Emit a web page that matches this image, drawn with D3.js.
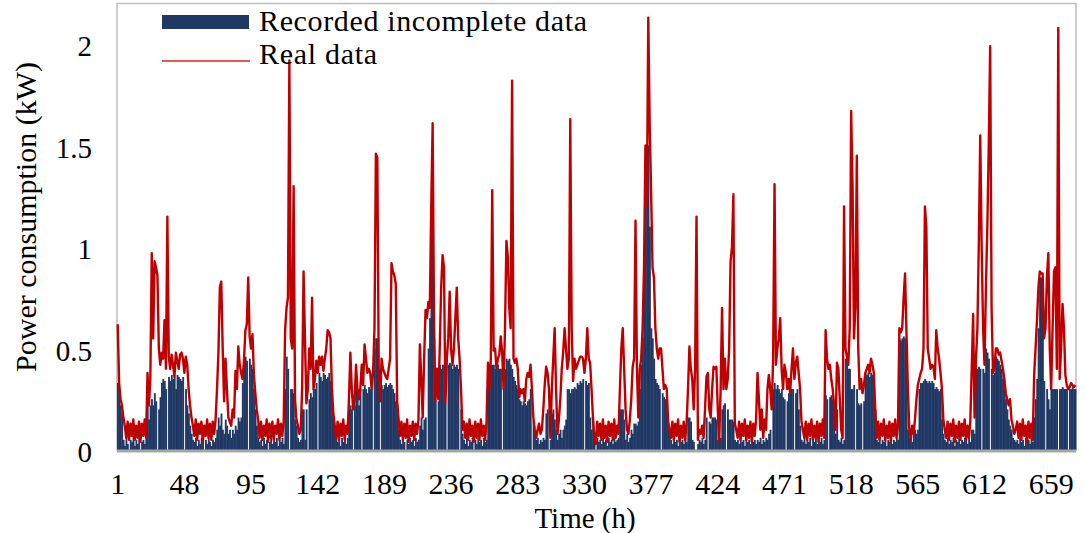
<!DOCTYPE html>
<html>
<head>
<meta charset="utf-8">
<script src="https://cdn.jsdelivr.net/npm/d3@7/dist/d3.min.js"></script>
<style>
  html, body { margin: 0; padding: 0; background: #ffffff; }
  svg { display: block; }
  text { font-family: "Liberation Serif", "Times New Roman", serif; fill: #000; }
</style>
</head>
<body>
<svg id="chart" width="1085" height="533"></svg>
<script>
// Hourly power consumption (kW), hour 1 .. 676
const realData = [
  0.62,0.33,0.25,0.22,0.16,0.12,0.06,0.14,0.05,0.13,
  0.07,0.15,0.05,0.12,0.06,0.14,0.04,0.13,0.07,0.15,
  0.06,0.38,0.22,0.35,0.97,0.55,0.93,0.9,0.86,0.5,
  0.42,0.48,0.45,0.64,0.4,1.15,0.46,0.4,0.47,0.42,
  0.36,0.48,0.44,0.4,0.47,0.48,0.45,0.38,0.46,0.42,
  0.3,0.22,0.16,0.12,0.07,0.15,0.05,0.13,0.08,0.14,
  0.04,0.12,0.07,0.15,0.06,0.13,0.05,0.14,0.08,0.15,
  0.3,0.48,0.8,0.83,0.5,0.24,0.45,0.3,0.16,0.14,
  0.12,0.2,0.16,0.39,0.3,0.51,0.42,0.38,0.35,0.44,
  0.59,0.62,0.85,0.56,0.5,0.57,0.37,0.28,0.2,0.15,
  0.06,0.14,0.05,0.12,0.07,0.15,0.04,0.13,0.06,0.14,
  0.05,0.12,0.08,0.15,0.05,0.13,0.07,0.14,0.59,0.7,
  0.75,1.92,0.55,0.5,1.3,0.25,0.15,0.12,0.08,0.1,
  0.3,0.88,0.55,0.23,0.3,0.5,0.4,0.75,0.3,0.35,
  0.44,0.38,0.46,0.42,0.46,0.39,0.45,0.5,0.59,0.58,
  0.55,0.3,0.18,0.12,0.06,0.14,0.05,0.13,0.07,0.15,
  0.05,0.12,0.08,0.25,0.48,0.3,0.2,0.25,0.42,0.3,
  0.25,0.3,0.42,0.32,0.52,0.45,0.38,0.4,0.38,0.3,
  0.38,0.6,1.46,1.44,0.4,0.24,0.45,0.4,0.38,0.36,
  0.35,0.4,0.45,0.92,0.88,0.86,0.82,0.24,0.15,0.07,
  0.14,0.05,0.13,0.06,0.15,0.04,0.12,0.07,0.14,0.05,
  0.13,0.08,0.15,0.52,0.35,0.16,0.45,0.69,0.65,0.73,
  0.7,1.2,1.61,0.6,0.24,0.4,0.25,0.5,0.8,0.96,
  0.9,0.23,0.45,0.55,0.78,0.5,0.42,0.5,0.65,0.8,
  0.55,0.45,0.3,0.1,0.14,0.06,0.13,0.05,0.15,0.07,
  0.12,0.04,0.14,0.06,0.13,0.05,0.15,0.07,0.12,0.05,
  0.14,0.43,0.3,0.45,1.28,0.49,0.5,0.4,0.45,0.47,
  0.56,0.48,0.3,0.6,1.03,0.95,0.7,0.6,1.82,0.45,
  0.43,0.45,0.4,0.26,0.3,0.28,0.3,0.24,0.35,0.38,
  0.36,0.42,0.3,0.16,0.1,0.06,0.1,0.13,0.08,0.1,
  0.2,0.32,0.41,0.38,0.3,0.06,0.3,0.45,0.6,0.3,
  0.08,0.15,0.25,0.4,0.48,0.6,0.5,0.4,0.45,1.63,
  0.6,0.34,0.45,0.4,0.42,0.44,0.46,0.46,0.45,0.38,
  0.45,0.6,0.45,0.43,0.3,0.16,0.06,0.03,0.14,0.07,
  0.13,0.05,0.15,0.06,0.12,0.04,0.14,0.07,0.13,0.05,
  0.15,0.06,0.12,0.08,0.3,0.5,0.6,0.4,0.2,0.1,
  0.08,0.15,0.25,0.41,0.45,1.13,0.4,0.16,0.4,0.45,
  0.6,0.9,1.5,1.2,2.13,1.6,1.27,0.9,0.85,0.6,
  0.5,0.45,0.5,0.5,0.4,0.3,0.32,0.3,0.14,0.1,
  0.06,0.14,0.05,0.13,0.07,0.15,0.04,0.12,0.06,0.14,
  0.05,0.13,0.3,0.51,0.4,0.35,0.2,0.4,1.15,0.05,
  0.1,0.08,0.12,0.06,0.2,0.36,0.38,0.2,0.16,0.3,
  0.41,0.4,0.41,0.2,0.04,0.3,0.7,0.3,0.45,0.3,
  0.35,0.5,0.93,1.0,1.26,0.13,0.1,0.06,0.14,0.05,
  0.13,0.07,0.15,0.05,0.12,0.06,0.14,0.04,0.13,0.07,
  0.15,0.38,0.25,0.1,0.2,0.06,0.15,0.1,0.3,0.37,
  0.3,0.2,0.45,1.31,0.42,0.5,0.55,0.65,0.4,0.3,
  0.42,0.38,0.3,0.35,0.28,0.4,0.5,0.35,0.43,0.46,
  0.38,0.3,0.14,0.1,0.06,0.14,0.05,0.13,0.07,0.15,
  0.05,0.12,0.06,0.14,0.04,0.13,0.07,0.15,0.06,0.59,
  0.45,0.4,0.42,0.35,0.3,0.22,0.1,0.43,0.4,0.25,
  0.1,0.06,1.2,0.5,0.46,0.42,0.6,1.67,1.3,0.55,
  0.7,1.45,0.5,0.3,0.35,0.28,0.32,0.38,0.4,0.42,
  0.38,0.45,0.42,0.38,0.2,0.06,0.14,0.05,0.13,0.07,
  0.15,0.05,0.12,0.06,0.14,0.04,0.13,0.07,0.15,0.06,
  0.12,0.6,0.58,0.6,0.75,0.87,0.58,0.3,0.1,0.05,
  0.12,0.08,0.15,0.25,0.32,0.35,0.38,0.4,0.5,1.2,
  1.1,0.5,0.45,0.4,0.42,0.41,0.35,0.59,0.5,0.45,
  0.38,0.3,0.15,0.1,0.06,0.14,0.05,0.13,0.07,0.15,
  0.04,0.12,0.06,0.14,0.05,0.13,0.07,0.15,0.05,0.12,
  0.06,0.14,0.4,0.67,0.16,0.45,0.6,1.02,1.55,1.0,
  0.6,0.42,0.8,1.1,1.5,1.99,0.7,0.38,0.4,0.5,
  0.5,0.47,0.48,0.44,0.4,0.35,0.28,0.25,0.22,0.25,
  0.15,0.12,0.08,0.1,0.14,0.06,0.13,0.05,0.15,0.07,
  0.12,0.04,0.14,0.06,0.13,0.05,0.37,0.5,0.64,0.8,
  0.88,0.87,0.87,0.55,0.6,0.85,0.97,0.5,0.3,0.6,
  0.88,0.9,0.4,2.08,0.35,0.5,0.72,0.6,0.37,0.32,
  0.3,0.31,0.33,0.32,0.31,0.32
];

// Recorded values for the same hours; 0 marks a missing record
const recordedData = [
  0.33,0.3,0.22,0.18,0.05,0.02,0.06,0.03,0,0.05,
  0.04,0.07,0.02,0.05,0.03,0.06,0,0.04,0.05,0.03,
  0.06,0.26,0.15,0.22,0.25,0.22,0.28,0.24,0,0.2,
  0.26,0.33,0.35,0.34,0.3,0,0.36,0.34,0.37,0.35,
  0.36,0.3,0.37,0.36,0.35,0.34,0.36,0,0.3,0.22,
  0.18,0.12,0.08,0.05,0.04,0.06,0.02,0.05,0.03,0.06,
  0.04,0,0.05,0.03,0.06,0.04,0.02,0.05,0.04,0.06,
  0.1,0.16,0.12,0.18,0.1,0.08,0.15,0.12,0.08,0.1,
  0.06,0.1,0.08,0.12,0.1,0.16,0.14,0.16,0.33,0.42,
  0.46,0.44,0,0.45,0.42,0.4,0.3,0.2,0.12,0.06,
  0.04,0.05,0.02,0.06,0.03,0.05,0,0.04,0.06,0.03,
  0.05,0.04,0.06,0.02,0.05,0.04,0.06,0.03,0.3,0.46,
  0.4,0,0.3,0.3,0.28,0.15,0.12,0.06,0.04,0.05,
  0.2,0.2,0.05,0.2,0,0.25,0.28,0.26,0.3,0.3,
  0.33,0,0.38,0.36,0.34,0.38,0.37,0.35,0.36,0.38,
  0.34,0.3,0.15,0.1,0.06,0.04,0.05,0.02,0.06,0.04,
  0.05,0.03,0.06,0.2,0.22,0.2,0,0.22,0.3,0.3,
  0.22,0.3,0,0.3,0.32,0.3,0.28,0.31,0.3,0.3,
  0,0.5,0.55,0.55,0.38,0,0.32,0.3,0.32,0.33,
  0.31,0.32,0.33,0.32,0.3,0.28,0.24,0.22,0.1,0.05,
  0.03,0.05,0.04,0,0.05,0.03,0.06,0.04,0.05,0.02,
  0.06,0.04,0.05,0.12,0.16,0.1,0.15,0.16,0,0.5,
  0.65,1.15,1.2,0.55,0.24,0,0.24,0.42,0.4,0.42,
  0.42,0.23,0,0.42,0.43,0.42,0.4,0.42,0.41,0.42,
  0.4,0,0.2,0.08,0.05,0.03,0.06,0.02,0.05,0.04,
  0.06,0,0.05,0.03,0.06,0.04,0.05,0.02,0.06,0.04,
  0.05,0.3,0.3,0.42,0.42,0.42,0.4,0.4,0.42,0.4,
  0.4,0,0.3,0.4,0.45,0.44,0.45,0.42,0.4,0.36,
  0.34,0.32,0.3,0.25,0.24,0.22,0.24,0.23,0.22,0.24,
  0.25,0.3,0,0.14,0.08,0.05,0.06,0.03,0.05,0.04,
  0.06,0.05,0.18,0.2,0,0.05,0.18,0.2,0.15,0.1,
  0.05,0.08,0.1,0.06,0.1,0.12,0.15,0.3,0.3,0.28,
  0.3,0.3,0.31,0.3,0.33,0.32,0.34,0.33,0.35,0,
  0.34,0.32,0.33,0.16,0.1,0.16,0.05,0,0.06,0.04,
  0.05,0.03,0.06,0.04,0.05,0.02,0.06,0.04,0.05,0.03,
  0.06,0.04,0.05,0.06,0.2,0.2,0.2,0.15,0.05,0.08,
  0.04,0.06,0.1,0.08,0.13,0.13,0.12,0.14,0.3,0.42,
  0.55,0.85,1.45,1.2,1.5,1.1,0.6,0.55,0.45,0.35,
  0.33,0.32,0.3,0,0.28,0.26,0.25,0.24,0.12,0.08,
  0.05,0.03,0.06,0.04,0.05,0.02,0.06,0.04,0.05,0.03,
  0.06,0.04,0.16,0.16,0.14,0.05,0.04,0,0,0.03,
  0.05,0.04,0.06,0.03,0.05,0.16,0,0.14,0.13,0.16,
  0.16,0.16,0.15,0.05,0.04,0.06,0.2,0.22,0.23,0,
  0.2,0.15,0.15,0.15,0.14,0.05,0.04,0.05,0.03,0.06,
  0.04,0.05,0.02,0.06,0.04,0.05,0.03,0.06,0.04,0.05,
  0.03,0.05,0.04,0.06,0.03,0.05,0.04,0.06,0.05,0.08,
  0.1,0,0.3,0.33,0.3,0.32,0.3,0.28,0.3,0.26,
  0.25,0,0.24,0.28,0.28,0.3,0.3,0,0.28,0.3,
  0.2,0.12,0.05,0.04,0.06,0.03,0.05,0.04,0.06,0.02,
  0.05,0.04,0.06,0.03,0.05,0.04,0.06,0.03,0.05,0.27,
  0.25,0,0.26,0.27,0.25,0.2,0.08,0.2,0.05,0.04,
  0.06,0.03,0.05,0.45,0.45,0.4,0.4,0.3,0.3,0.32,
  0,0.3,0.23,0.22,0.23,0,0.24,0.38,0.37,0.38,
  0.36,0.38,0.37,0.36,0.2,0.05,0.04,0.06,0.03,0.05,
  0.04,0.06,0.02,0.05,0.04,0.06,0.03,0.05,0.04,0.06,
  0.05,0.55,0.54,0.55,0.56,0.55,0.5,0.1,0.06,0.08,
  0.04,0.08,0.1,0.08,0.1,0.3,0.33,0.33,0.34,0.35,
  0.34,0.33,0.34,0.33,0.34,0.33,0.3,0.31,0.3,0.29,
  0.3,0.15,0.08,0.05,0.04,0.06,0.03,0.05,0.04,0.06,
  0.02,0.05,0.04,0.06,0.03,0.05,0.04,0.06,0.05,0.03,
  0.06,0.04,0.1,0.1,0.08,0.4,0.4,0.41,0.4,0,
  0.4,0.38,0.5,0.48,0.45,0,0.4,0.37,0.38,0.46,
  0.45,0.44,0.42,0.4,0.35,0.3,0.25,0.2,0.15,0.12,
  0.1,0.06,0.05,0.04,0.05,0.03,0.06,0.04,0.05,0.02,
  0.06,0.04,0.05,0.03,0.06,0.04,0.16,0.25,0.35,0.6,
  0.85,0.85,0.8,0.34,0,0.3,0.25,0.2,0.3,0.3,
  0.3,0.3,0.3,0,0.3,0.3,0.31,0.3,0.3,0.3,
  0,0.3,0.3,0.31,0.3,0.3
];

const hours = realData.map((d, i) => i + 1);
const xTickValues = [1, 48, 95, 142, 189, 236, 283, 330, 377, 424, 471, 518, 565, 612, 659];
const yTickValues = [0, 0.5, 1, 1.5, 2];
const legendLabels = ["Recorded incomplete data", "Real data"];

const BAR_COLOR = "#1f3864";
const LINE_COLOR = "#c00000";

const svg = d3.select("#chart");
const plot = { left: 117, right: 1076, top: 3.5, bottom: 450 };

const x = d3.scaleBand().domain(hours).range([plot.left, plot.right]).padding(0);
const y = d3.scaleLinear().domain([0, 2.2]).range([plot.bottom, plot.top]);
const cx = h => x(h) + x.bandwidth() / 2;

// plot frame
svg.append("rect")
  .attr("x", plot.left).attr("y", plot.top)
  .attr("width", plot.right - plot.left).attr("height", plot.bottom - plot.top)
  .attr("fill", "none").attr("stroke", "#bfbfbf").attr("stroke-width", 1.5);

// recorded data as columns
svg.append("g").selectAll("rect")
  .data(recordedData.map((v, i) => ({ h: i + 1, v })))
  .join("rect")
  .attr("x", d => x(d.h))
  .attr("width", x.bandwidth() + 0.45)
  .attr("y", d => y(d.v))
  .attr("height", d => y(0) - y(d.v))
  .attr("fill", BAR_COLOR);

// real data as a line
const line = d3.line().x((d, i) => cx(i + 1)).y(d => y(d));
svg.append("path")
  .datum(realData)
  .attr("d", line)
  .attr("fill", "none")
  .attr("stroke", LINE_COLOR)
  .attr("stroke-width", 2.4)
  .attr("stroke-linejoin", "round");

// category axis line
svg.append("line")
  .attr("x1", plot.left).attr("x2", plot.right)
  .attr("y1", y(0) + 1).attr("y2", y(0) + 1)
  .attr("stroke", "#a6a6a6").attr("stroke-width", 3);

// y axis labels
const yAxis = d3.axisLeft(y).tickValues(yTickValues).tickSize(0).tickPadding(0)
  .tickFormat(d => String(d));
svg.append("g")
  .attr("transform", "translate(92,2.5)")
  .call(yAxis)
  .call(g => g.select(".domain").remove())
  .call(g => g.selectAll("text")
    .attr("font-family", "Liberation Serif, serif")
    .attr("font-size", 29).attr("fill", "#000"));

// x axis labels
const xAxis = d3.axisBottom(x).tickValues(xTickValues).tickSize(0).tickPadding(0);
svg.append("g")
  .attr("transform", "translate(0,473)")
  .call(xAxis)
  .call(g => g.select(".domain").remove())
  .call(g => g.selectAll("text")
    .attr("font-family", "Liberation Serif, serif")
    .attr("font-size", 30).attr("fill", "#000"));

// axis titles
svg.append("text")
  .attr("x", 585).attr("y", 527.5)
  .attr("text-anchor", "middle")
  .attr("font-size", 29)
  .text("Time (h)");

svg.append("text")
  .attr("transform", "translate(36,217) rotate(-90)")
  .attr("text-anchor", "middle")
  .attr("font-size", 30)
  .text("Power consumption (kW)");

// legend
const legend = svg.append("g");
legend.append("rect")
  .attr("x", 162).attr("y", 15).attr("width", 87).attr("height", 14)
  .attr("fill", BAR_COLOR);
legend.append("line")
  .attr("x1", 162).attr("x2", 250).attr("y1", 61).attr("y2", 61)
  .attr("stroke", "#e0201f").attr("stroke-width", 1.5);
legend.append("text")
  .attr("x", 259).attr("y", 31)
  .attr("font-size", 30)
  .attr("textLength", 328).attr("lengthAdjust", "spacing")
  .text(legendLabels[0]);
legend.append("text")
  .attr("x", 259).attr("y", 64)
  .attr("font-size", 30)
  .attr("textLength", 118).attr("lengthAdjust", "spacing")
  .text(legendLabels[1]);
</script>
</body>
</html>
